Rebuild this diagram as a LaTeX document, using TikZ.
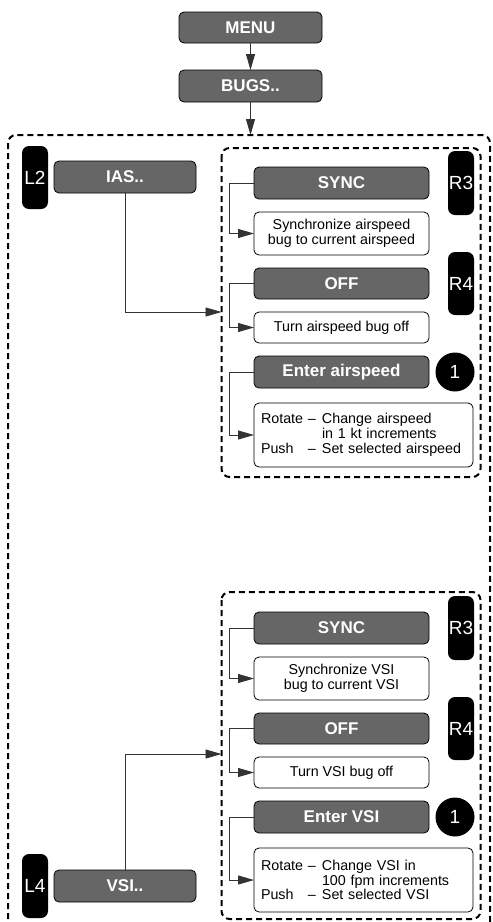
\documentclass[tikz,border=0pt]{standalone}
\usepackage{fontspec}
\setmainfont{Liberation Sans}
\usetikzlibrary{arrows.meta}
\definecolor{boxgray}{HTML}{666666}
\definecolor{linegray}{HTML}{333333}
\newcommand\myBody{\fontsize{14.3}{14.8}\selectfont}
\newcommand\myBold{\fontsize{17}{18}\selectfont\bfseries}
\newcommand\myBadge{\fontsize{19}{20}\selectfont}
\newcommand\rotrow[2]{\makebox[61pt][l]{\makebox[47pt][l]{#1}#2}}
\tikzset{
  graybox/.style={draw=black, line width=0.8pt, fill=boxgray, rounded corners=5pt,
    text=white, font=\myBold, inner sep=0pt, outer sep=0pt, minimum width=175pt, minimum height=32pt},
  whitebox/.style={draw=black, line width=0.8pt, fill=white, rounded corners=5pt,
    font=\myBody, align=center, inner sep=0pt, outer sep=0pt, minimum width=175pt},
  badge/.style={fill=black, rounded corners=7pt, text=white, font=\myBadge,
    inner sep=0pt, outer sep=0pt, minimum width=26pt, minimum height=64pt},
  numcirc/.style={circle, fill=black, text=white, font=\myBadge, inner sep=0pt, minimum size=39pt},
  dbox/.style={draw=black, line width=2pt, dash pattern=on 6pt off 4pt, rounded corners=8pt},
  conn/.style={draw=linegray, line width=0.9pt, -{Triangle[length=16pt,width=9pt]}}
}
\begin{document}
\begin{tikzpicture}[x=1pt,y=-1pt]
\useasboundingbox (0,0) rectangle (493,922);
\clip (0,0) rectangle (493,922);
\fill[white] (0,0) rectangle (493,922);
% top
\node[graybox, minimum width=143pt, minimum height=31pt] (menu) at (250.5,27.5) {MENU};
\node[graybox, minimum width=143pt, minimum height=32pt] (bugs) at (250.5,86) {BUGS..};
\coordinate (outtop) at (250.5,135);
\draw[conn] (menu) -- (bugs);
\draw[conn] (bugs) -- (outtop);
% outer box
\draw[dbox] (8,135) rectangle (490,950);
% inner boxes
\draw[dbox] (221.5,148) rectangle (480.5,477);
\draw[dbox] (221.5,592) rectangle (480.5,919);
% left column
\node[badge, minimum height=63pt] (l2) at (35,177.5) {L2};
\node[graybox, minimum width=142pt] (ias) at (125,177) {IAS..};
\node[badge] (l4) at (35,886) {L4};
\node[graybox, minimum width=142pt] (vsi) at (125,886) {VSI..};
\coordinate (in1a) at (221.5,312);
\coordinate (in2a) at (221.5,754);
\draw[conn] (ias.south) |- (in1a);
\draw[conn] (vsi.north) |- (in2a);
% group 1
\node[graybox] (sync1) at (341.5,183) {SYNC};
\node[whitebox, minimum height=43pt] (sdesc1) at (341.5,233.5) {Synchronize airspeed\\bug to current airspeed};
\node[badge] (r3a) at (461,183) {R3};
\node[graybox, minimum height=31pt] (off1) at (341.5,283.5) {OFF};
\node[badge, minimum height=63pt] (r4a) at (461,283.5) {R4};
\node[whitebox, minimum height=31pt] (odesc1) at (341.5,327.5) {Turn airspeed bug off};
\node[graybox] (enter1) at (341.5,372) {Enter airspeed};
\node[numcirc] (c1a) at (455,372) {1};
\node[whitebox, align=left, text width=205pt, inner xsep=7pt, minimum width=219pt, minimum height=64pt] (rot1) at (363.5,435)
  {\rotrow{Rotate}{--}Change airspeed\\\rotrow{}{}in 1 kt increments\\\rotrow{Push}{--}Set selected airspeed};
\draw[conn] (sync1.west) -- ++(-25,0) |- (sdesc1.west);
\draw[conn] (off1.west) -- ++(-25,0) |- (odesc1.west);
\draw[conn] (enter1.west) -- ++(-25,0) |- (rot1.west);
% group 2
\node[graybox] (sync2) at (341.5,628) {SYNC};
\node[whitebox, minimum height=43pt] (sdesc2) at (341.5,678.5) {Synchronize VSI\\bug to current VSI};
\node[badge] (r3b) at (461,628) {R3};
\node[graybox, minimum height=31pt] (off2) at (341.5,728.5) {OFF};
\node[badge, minimum height=63pt] (r4b) at (461,728.5) {R4};
\node[whitebox, minimum height=31pt] (odesc2) at (341.5,772.5) {Turn VSI bug off};
\node[graybox] (enter2) at (341.5,817) {Enter VSI};
\node[numcirc] (c1b) at (455,817) {1};
\node[whitebox, align=left, text width=205pt, inner xsep=7pt, minimum width=219pt, minimum height=64pt] (rot2) at (363.5,880)
  {\rotrow{Rotate}{--}Change VSI in\\\rotrow{}{}100 fpm increments\\\rotrow{Push}{--}Set selected VSI};
\draw[conn] (sync2.west) -- ++(-25,0) |- (sdesc2.west);
\draw[conn] (off2.west) -- ++(-25,0) |- (odesc2.west);
\draw[conn] (enter2.west) -- ++(-25,0) |- (rot2.west);
\end{tikzpicture}
\end{document}
